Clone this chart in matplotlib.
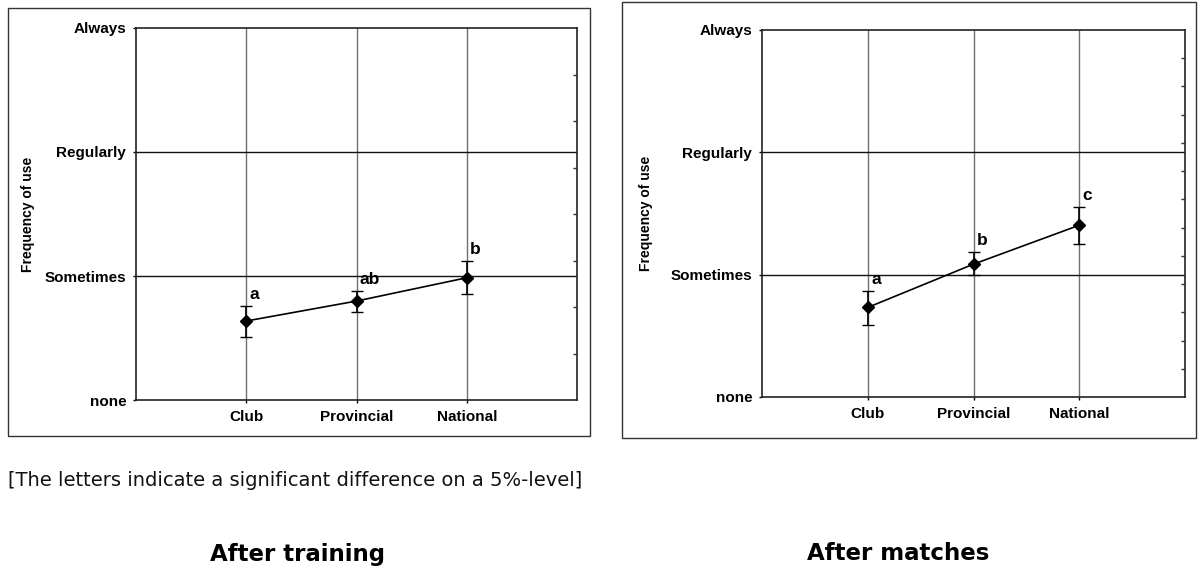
import matplotlib
matplotlib.use("Agg")
import matplotlib.pyplot as plt
from matplotlib.patches import Rectangle

# data (0 = none, 1 = Sometimes, 2 = Regularly, 3 = Always)
levels = ["Club", "Provincial", "National"]
freq_labels = ["none", "Sometimes", "Regularly", "Always"]

training_mean = [0.637, 0.798, 0.986]
training_low = [0.509, 0.713, 0.852]
training_high = [0.758, 0.879, 1.12]
training_letters = ["a", "ab", "b"]

matches_mean = [0.732, 1.086, 1.404]
matches_low = [0.588, 0.996, 1.249]
matches_high = [0.868, 1.186, 1.553]
matches_letters = ["a", "b", "c"]

W, H = 1198, 572
fig = plt.figure(figsize=(W / 100, H / 100), dpi=100)

bold = dict(family="Liberation Sans", weight="bold")


def panel(rect_ax, rect_box, label_x, mean, low, high, letters, n_minor):
    # outer frame
    fig.patches.append(Rectangle((rect_box[0] / W, 1 - rect_box[3] / H),
                                 (rect_box[2] - rect_box[0]) / W,
                                 (rect_box[3] - rect_box[1]) / H,
                                 transform=fig.transFigure, fill=False,
                                 edgecolor="#333333", linewidth=1.0))
    x0, y0, x1, y1 = rect_ax
    ax = fig.add_axes([x0 / W, 1 - y1 / H, (x1 - x0) / W, (y1 - y0) / H])
    x = [1, 2, 3]
    ax.set_xlim(0, 4)
    ax.set_ylim(0, 3)
    ax.set_xticks(x)
    ax.set_xticklabels(levels, fontsize=11, **bold)
    ax.set_yticks(range(4))
    ax.set_yticklabels(freq_labels, fontsize=11, **bold)
    ax.tick_params(length=2, width=1, pad=5)
    for xi in x:
        ax.axvline(xi, color="#707070", linewidth=1.0, zorder=1)
    for yi in (1, 2):
        ax.axhline(yi, color="#111111", linewidth=1.0, zorder=1)
    for s in ax.spines.values():
        s.set_linewidth(1.2)
        s.set_color("#222222")
    yerr = [[m - l for m, l in zip(mean, low)], [h - m for m, h in zip(mean, high)]]
    ax.errorbar(x, mean, yerr=yerr, color="black", linewidth=1.2, marker="D",
                markersize=6, capsize=4.5, elinewidth=1.2, capthick=1.0, zorder=3)
    for xi, h, t in zip(x, high, letters):
        ax.annotate(t, (xi, h), xytext=(2.5, 3), textcoords="offset points",
                    ha="left", va="bottom", fontsize=12.5, **bold)
    ax.set_ylabel("Frequency of use", fontsize=10, **bold)
    ax.yaxis.set_label_coords((label_x - x0) / (x1 - x0), 0.5)
    # minor ticks on the right spine
    sec = ax.twinx()
    sec.set_ylim(0, 3)
    sec.set_yticks([3 * i / n_minor for i in range(1, n_minor)])
    sec.set_yticklabels([])
    sec.tick_params(axis="y", direction="in", length=3, width=1, color="#333333")
    for s in sec.spines.values():
        s.set_visible(False)
    return ax


panel((136, 28, 577, 400), (8, 8, 590, 436), 35, training_mean, training_low,
      training_high, training_letters, 8)
panel((762, 30, 1185, 397), (622, 2, 1196, 438), 653, matches_mean, matches_low,
      matches_high, matches_letters, 13)

fig.text(8 / W, 1 - 481 / H, "[The letters indicate a significant difference on a 5%-level]",
         fontsize=14, family="DejaVu Sans", va="center", ha="left", color="#111111")
fig.text(297 / W, 1 - 554 / H, "After training", fontsize=16.5, family="DejaVu Sans",
         weight="bold", ha="center", va="center")
fig.text(898 / W, 1 - 554 / H, "After matches", fontsize=16.5, family="DejaVu Sans",
         weight="bold", ha="center", va="center")

fig.savefig("out.png", dpi=100)
